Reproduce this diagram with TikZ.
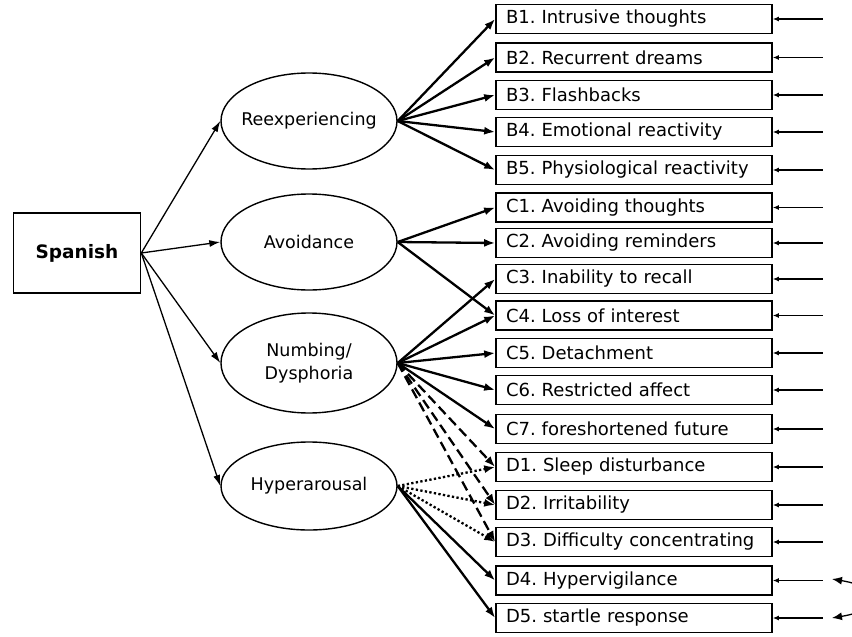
\documentclass[tikz,border=0pt]{standalone}
\usepackage{fontspec}
\setmainfont{DejaVu Sans}
\usepackage{tikz}
\usetikzlibrary{arrows.meta,shapes.geometric}
\frenchspacing

\begin{document}
\begin{tikzpicture}[x=1pt, y=-1pt,
	item/.style={draw, line width=1.6pt, minimum width=276pt, minimum height=29pt, text width=256pt, align=left, inner xsep=10pt, inner ysep=0pt, font=\fontsize{18}{20}\selectfont},
	factor/.style={draw, ellipse, line width=1.4pt, minimum width=176pt, minimum height=96pt, inner xsep=-10pt, inner ysep=0pt, align=center, font=\fontsize{17.5}{23}\selectfont},
	load/.style={line width=2.3pt, -{Latex[length=11pt, width=8pt]}},
	path/.style={line width=1.3pt, -{Latex[length=11pt, width=7pt]}},
	errarrow/.style={line width=1.3pt, -{Latex[length=6pt, width=5pt]}},
	crossload/.style={load, dash pattern=on 10pt off 5pt},
	dotload/.style={load, dash pattern=on 2.3pt off 2.3pt}]
	\useasboundingbox (0,0) rectangle (852,637);

	% group
	\node[draw, line width=1.6pt, minimum width=127pt, minimum height=80pt, font=\fontsize{18.5}{20}\selectfont\bfseries] (spanish) at (77,253) {Spanish};

	% factors
	\node[factor] (reexp) at (309,121) {Reexperiencing};
	\node[factor] (avoid) at (309,242) {Avoidance};
	\node[factor, minimum height=100pt] (numb) at (309,363) {Numbing/\\Dysphoria};
	\node[factor, minimum height=88pt] (hyper) at (309,486) {Hyperarousal};

	% items
	\node[item] (b1) at (634,19) {B1. Intrusive thoughts};
	\node[item] (b2) at (634,57.5) {B2. Recurrent dreams};
	\node[item] (b3) at (634,95) {B3. Flashbacks};
	\node[item] (b4) at (634,132) {B4. Emotional reactivity};
	\node[item] (b5) at (634,170) {\mbox{B5. Physiological reactivity}};
	\node[item] (c1) at (634,207.5) {C1. Avoiding thoughts};
	\node[item] (c2) at (634,243) {C2. Avoiding reminders};
	\node[item] (c3) at (634,279) {C3. Inability to recall};
	\node[item] (c4) at (634,315.5) {C4. Loss of interest};
	\node[item] (c5) at (634,353) {C5. Detachment};
	\node[item] (c6) at (634,390) {C6. Restricted affect};
	\node[item] (c7) at (634,429) {C7. foreshortened future};
	\node[item] (d1) at (634,467) {D1. Sleep disturbance};
	\node[item] (d2) at (634,505) {D2. Irritability};
	\node[item] (d3) at (634,542) {\mbox{D3. Difficulty concentrating}};
	\node[item] (d4) at (634,580.5) {D4. Hypervigilance};
	\node[item] (d5) at (634,618) {D5. startle response};

	% group -> factors
	\draw[path] (spanish.east) -- (reexp.west);
	\draw[path] (spanish.east) -- (avoid.west);
	\draw[path] (spanish.east) -- (numb.west);
	\draw[path] (spanish.east) -- (hyper.west);

	% loadings
	\draw[load] (reexp.east) -- (b1.west);
	\draw[load] (reexp.east) -- (b2.west);
	\draw[load] (reexp.east) -- (b3.west);
	\draw[load] (reexp.east) -- (b4.west);
	\draw[load] (reexp.east) -- (b5.west);
	\draw[load] (avoid.east) -- (c1.west);
	\draw[load] (avoid.east) -- (c2.west);
	\draw[load] (avoid.east) -- (c4.west);
	\draw[load] (numb.east) -- (c3.west);
	\draw[load] (numb.east) -- (c4.west);
	\draw[load] (numb.east) -- (c5.west);
	\draw[load] (numb.east) -- (c6.west);
	\draw[load] (numb.east) -- (c7.west);
	\draw[crossload] (numb.east) -- (d1.west);
	\draw[crossload] (numb.east) -- (d2.west);
	\draw[crossload] (numb.east) -- (d3.west);
	\draw[dotload] (hyper.east) -- (d1.west);
	\draw[dotload] (hyper.east) -- (d2.west);
	\draw[dotload] (hyper.east) -- (d3.west);
	\draw[load] (hyper.east) -- (d4.west);
	\draw[load] (hyper.east) -- (d5.west);

	% error terms
	\foreach \n in {b1,b2,b3,b4,b5,c1,c2,c3,c4,c5,c6,c7,d1,d2,d3,d4,d5}{
		\coordinate (e\n) at ([xshift=50pt]\n.east);
		\draw[errarrow] (e\n) -- (\n.east);
	}
	\coordinate (r4) at (832,579);
	\coordinate (r5) at (832,618);
	\draw[line width=1.3pt, {Latex[length=10pt, width=8pt]}-{Latex[length=10pt, width=8pt]}] (r4) .. controls (885,588) and (885,609) .. (r5);
\end{tikzpicture}
\end{document}
